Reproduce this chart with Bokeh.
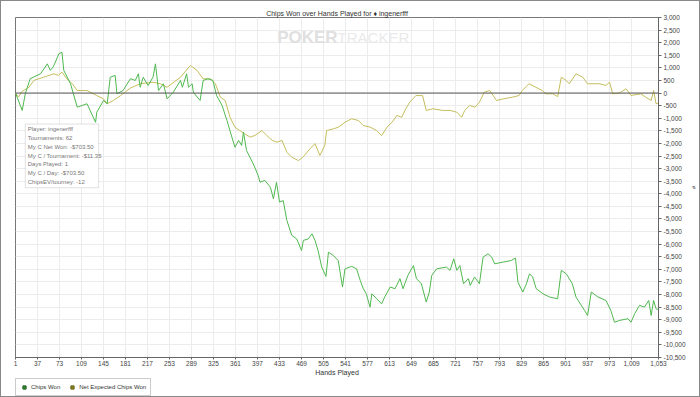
from bokeh.plotting import figure
from bokeh.layouts import column
from bokeh.models import (Range1d, FixedTicker, SingleIntervalTicker, NumeralTickFormatter,
                          Span, Legend, LegendItem, BoxAnnotation, Label, ColumnDataSource)
from bokeh.embed import file_html
from bokeh.resources import INLINE

# ---------------- data ----------------
hands_won = [1, 12, 17, 25, 42, 53, 58, 63, 72, 77,
             80, 91, 102, 118, 132, 134, 145, 151, 156, 164,
             167, 177, 189, 197, 202, 205, 210, 218, 226, 230,
             235, 243, 249, 259, 271, 274, 281, 284, 290, 292,
             303, 308, 316, 324, 330, 339, 347, 355, 360, 366,
             371, 374, 379, 390, 398, 401, 409, 418, 423, 428,
             433, 439, 445, 453, 461, 469, 472, 480, 486, 491,
             496, 502, 509, 513, 521, 529, 536, 540, 551, 559,
             565, 570, 575, 581, 584, 592, 600, 605, 614, 622,
             630, 635, 643, 652, 657, 665, 673, 678, 682, 690,
             706, 712, 718, 723, 728, 734, 742, 745, 752, 760,
             766, 774, 780, 785, 799, 812, 819, 823, 831, 837,
             842, 847, 853, 864, 875, 888, 894, 902, 912, 918,
             932, 937, 943, 954, 967, 975, 981, 989, 1003, 1008,
             1014, 1022, 1030, 1037, 1041, 1045, 1049, 1053]
chips_won = [0, -690, -30, 570, 765, 1160, 900, 1050, 1560, 1620,
             900, 370, -560, -425, -1160, -760, -295, -425, 630, 700,
             -30, 100, 570, 500, 765, 230, 630, 300, 630, 1160,
             100, 370, -230, 30, 500, 230, 765, 230, 370, 30,
             -295, 500, 566, 500, -100, -494, -1090, -1750, -2150, -1880,
             -2080, -1550, -2280, -2810, -3270, -3540, -3470, -3740, -4200, -3540,
             -4330, -4270, -5060, -5650, -5790, -6250, -5850, -5790, -5590, -5850,
             -6250, -6910, -7280, -6320, -6450, -6650, -7700, -6980, -6880, -6980,
             -7440, -7770, -7970, -8500, -7970, -8170, -8370, -8100, -7700, -7770,
             -7370, -7770, -7240, -6850, -7370, -7570, -8300, -7900, -7240, -6980,
             -6910, -7040, -6580, -7040, -6850, -7570, -7370, -7640, -7300, -7570,
             -6515, -6380, -6510, -6780, -6710, -6650, -6550, -7510, -7900, -7570,
             -7175, -7300, -7770, -7970, -8100, -8170, -7040, -7175, -7570, -8100,
             -8630, -8830, -7900, -8100, -8235, -8630, -9100, -9030, -8960, -9100,
             -8760, -8430, -8500, -8235, -8830, -8235, -8565, -8600]

hands_ev = [1, 6, 11, 23, 31, 47, 64, 71, 77, 85,
            94, 102, 118, 134, 145, 151, 161, 173, 189, 205,
            226, 238, 249, 271, 287, 298, 308, 320, 328, 336,
            344, 352, 360, 368, 376, 385, 393, 404, 412, 421,
            429, 437, 445, 453, 464, 471, 483, 491, 499, 507,
            510, 521, 529, 540, 551, 562, 570, 581, 592, 600,
            609, 617, 625, 633, 638, 646, 656, 667, 673, 684,
            700, 712, 723, 731, 736, 744, 753, 760, 768, 777,
            788, 799, 814, 825, 830, 841, 852, 863, 869, 880,
            888, 894, 902, 907, 918, 929, 937, 957, 967, 973,
            978, 989, 1000, 1008, 1024, 1032, 1041, 1045, 1049, 1053]
net_expected = [0, -160, 50, 230, 500, 630, 765, 700, 830, 566,
                370, 100, 100, -100, -230, -425, -295, -100, 200, 370,
                430, 370, 230, 630, 1095, 900, 566, 566, 370, -160,
                -295, -960, -1355, -1490, -1620, -1750, -1680, -1490, -1680, -1880,
                -1950, -1880, -2350, -2550, -2680, -2550, -2210, -2010, -2480, -2080,
                -1490, -1420, -1360, -1160, -1020, -1090, -1290, -1350, -1490, -1690,
                -1350, -1160, -890, -960, -690, -360, -100, -100, -690, -625,
                -690, -690, -760, -960, -690, -494, -560, -360, 34, 100,
                -295, -230, -164, -97, 100, 368, 233, 100, -30, -30,
                -140, 630, 500, 368, 765, 630, 368, 368, 300, 432,
                -30, 0, 168, -97, -30, -164, -295, 102, -425, -400]

x_ticks = [1, 37, 73, 109, 145, 181, 217, 253, 289, 325, 361, 397, 433, 469, 505,
           541, 577, 613, 649, 685, 721, 757, 793, 829, 865, 901, 937, 973, 1009, 1053]

series_names = ["Chips Won", "Net Expected Chips Won"]
stats_lines = ["Player: ingenerfff", "Tournaments: 62", "My C Net Won: -$703.50",
               "My C / Tournament: -$11.35", "Days Played: 1", "My C / Day: -$703.50",
               "ChipsEV/tourney: -12"]
title_text = "Chips Won over Hands Played for \u2666 ingenerfff"

# ---------------- styling ----------------
FONT = "Liberation Sans"
GREEN = "#4fb84f"
OLIVE = "#c4bd5c"
NAN = float("nan")

p = figure(width=698, height=377, output_backend="svg", toolbar_location=None,
           x_range=Range1d(1, 1053), y_range=Range1d(-10500, 3000),
           y_axis_location="right", min_border_left=14, min_border_right=39,
           min_border_top=16, min_border_bottom=18)

p.title.text = title_text
p.title.align = "center"
p.title.vertical_align = "middle"
p.title.text_font = FONT
p.title.text_font_size = "7px"
p.title.text_font_style = "normal"
p.title.text_color = "#333333"
p.title.standoff = 0
p.title.offset = 0

p.outline_line_color = "#777777"
p.background_fill_color = "white"
p.border_fill_color = "white"

p.xaxis.ticker = FixedTicker(ticks=x_ticks)
p.yaxis.ticker = SingleIntervalTicker(interval=500)
p.yaxis.formatter = NumeralTickFormatter(format="0,0")
p.xaxis.formatter = NumeralTickFormatter(format="0,0")
for ax in (p.xaxis, p.yaxis):
    ax.major_label_text_font = FONT
    ax.major_label_text_font_size = "6.5px"
    ax.major_label_text_color = "#444444"
    ax.axis_line_color = "#666666"
    ax.major_tick_line_color = "#666666"
    ax.major_tick_out = 3
    ax.major_tick_in = 0
    ax.minor_tick_out = 0
    ax.minor_tick_in = 0
    ax.major_label_standoff = 2
    ax.axis_label_text_font = FONT
    ax.axis_label_text_font_style = "normal"
    ax.axis_label_text_color = "#333333"
p.xaxis.major_tick_out = 2
p.xaxis.major_label_standoff = 1
p.xaxis.axis_label = "Hands Played"
p.xaxis.axis_label_text_font_size = "7px"
p.xaxis.axis_label_standoff = 0
p.yaxis.axis_label = "#"
p.yaxis.axis_label_text_font_size = "6px"
p.yaxis.axis_label_standoff = 2

p.xgrid.ticker = FixedTicker(ticks=x_ticks)
p.grid.grid_line_color = "#ececec"
p.grid.grid_line_width = 1

# watermark
p.add_layout(Label(x=528, y=2200, text="POKER", text_align="right", text_baseline="middle",
                   text_font=FONT, text_font_size="17px", text_font_style="bold",
                   text_color="#e0e0e0"))
p.add_layout(Label(x=528, y=2200, text="TRACKER", text_align="left", text_baseline="middle",
                   text_font=FONT, text_font_size="15px", text_color="#eaeaea"))

src_won = ColumnDataSource(dict(x=hands_won, y=chips_won))
src_ev = ColumnDataSource(dict(x=hands_ev, y=net_expected))
p.line("x", "y", source=src_ev, line_color=OLIVE, line_width=1)
p.line("x", "y", source=src_won, line_color=GREEN, line_width=1)

p.add_layout(Span(location=0, dimension="width", line_color="#555555", line_width=1))

# stats box
p.add_layout(BoxAnnotation(left=17, right=137, top=-1230, bottom=-3760,
                           fill_color="white", fill_alpha=1.0,
                           line_color="#9a9a9a", line_width=1))
stat_y0 = -1430
stat_dy = 350
for i, s in enumerate(stats_lines):
    p.add_layout(Label(x=21, y=stat_y0 - i * stat_dy, text=s, text_baseline="middle",
                       text_font=FONT, text_font_size="6px", text_color="#777777"))

# legend strip below the chart
pl = figure(width=698, height=18, output_backend="svg", toolbar_location=None,
            x_range=Range1d(0, 1), y_range=Range1d(0, 1),
            x_axis_type=None, y_axis_type=None,
            min_border_left=14, min_border_right=0, min_border_top=0, min_border_bottom=0)
pl.outline_line_color = None
pl.grid.visible = False
r1 = pl.scatter(x=[NAN], y=[NAN], marker="square", size=7,
                fill_color="#2e8b2e", line_color="#1f5f1f")
r2 = pl.scatter(x=[NAN], y=[NAN], marker="square", size=7,
                fill_color="#8c8a1e", line_color="#5f5d10")
legend = Legend(items=[LegendItem(label=series_names[0], renderers=[r1]),
                       LegendItem(label=series_names[1], renderers=[r2])],
                orientation="horizontal", location="top_left",
                label_text_font=FONT, label_text_font_size="6px",
                label_text_color="#333333", glyph_width=8, glyph_height=8,
                label_standoff=3, spacing=8, padding=4, margin=0,
                border_line_color="#999999", background_fill_alpha=1.0,
                label_height=8)
pl.add_layout(legend)

layout = column(p, pl, spacing=0, styles={"border": "1px solid #888"})

open("out.html", "w").write(file_html(layout, INLINE))
